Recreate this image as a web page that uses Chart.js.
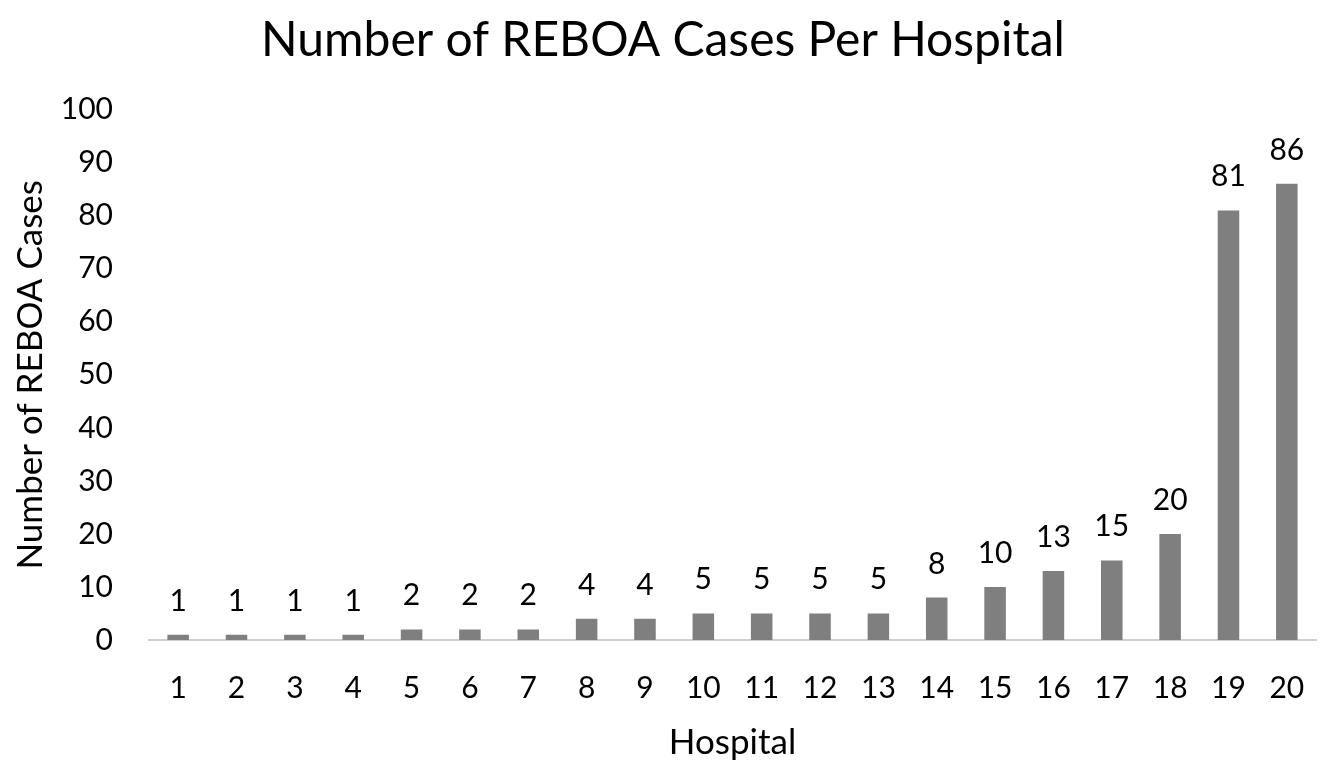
<!DOCTYPE html>
<html lang="en">
<head>
<meta charset="UTF-8">
<title>Number of REBOA Cases Per Hospital</title>
<script src="https://cdn.jsdelivr.net/npm/chart.js"></script>
<style>
    html, body {
        margin: 0;
        padding: 0;
        background: #ffffff;
    }
    .wrap {
        width: 1323px;
        height: 765px;
    }
</style>
</head>
<body>
<div class="wrap">
    <canvas id="rebaoChart" width="1323" height="765"></canvas>
</div>

<script>
    // Hospitals 1..20 and their REBOA case counts
    const hospitals = ['1', '2', '3', '4', '5', '6', '7', '8', '9', '10',
                       '11', '12', '13', '14', '15', '16', '17', '18', '19', '20'];
    const reboaCases = [1, 1, 1, 1, 2, 2, 2, 4, 4, 5, 5, 5, 5, 8, 10, 13, 15, 20, 81, 86];
    const yTicks = [0, 10, 20, 30, 40, 50, 60, 70, 80, 90, 100];

    const fontFamily = 'Lato, "Open Sans", sans-serif';

    // writes the value above each bar
    const barLabels = {
        id: 'barLabels',
        afterDatasetsDraw(chart) {
            const ctx = chart.ctx;
            const meta = chart.getDatasetMeta(0);
            ctx.save();
            ctx.fillStyle = '#000';
            ctx.font = '30px ' + fontFamily;
            ctx.textAlign = 'center';
            ctx.textBaseline = 'alphabetic';
            meta.data.forEach(function (bar, i) {
                ctx.fillText(reboaCases[i], bar.x, bar.y - 24);
            });
            ctx.restore();
        }
    };

    new Chart(document.getElementById('rebaoChart'), {
        type: 'bar',
        data: {
            labels: hospitals,
            datasets: [{
                data: reboaCases,
                backgroundColor: '#7f7f7f',
                barPercentage: 0.6,
                categoryPercentage: 0.615
            }]
        },
        options: {
            responsive: false,
            animation: false,
            layout: {
                padding: { left: 10, right: 7, top: 0, bottom: 1 }
            },
            plugins: {
                legend: { display: false },
                tooltip: { enabled: false },
                title: {
                    display: true,
                    text: 'Number of REBOA Cases Per Hospital',
                    color: '#000',
                    font: { family: fontFamily, size: 48, weight: 'normal' },
                    padding: { top: 12, bottom: 40 }
                }
            },
            scales: {
                x: {
                    afterFit(axis) {
                        axis.paddingLeft = 0;
                        axis.paddingRight = 0;
                        // tick padding is counted twice by fit(), take one back
                        axis.height -= 30;
                    },
                    grid: { display: false, drawTicks: false },
                    border: { display: true, color: '#d0d0d0', width: 2 },
                    ticks: {
                        color: '#000',
                        font: { family: fontFamily, size: 30 },
                        padding: 30,
                        maxRotation: 0
                    },
                    title: {
                        display: true,
                        text: 'Hospital',
                        color: '#000',
                        font: { family: fontFamily, size: 35 },
                        padding: { top: 16, bottom: 0 }
                    }
                },
                y: {
                    min: 0,
                    max: 100,
                    afterBuildTicks(axis) {
                        axis.ticks = yTicks.map(v => ({ value: v }));
                    },
                    afterFit(axis) {
                        axis.width = 139;
                        axis.paddingTop = 0;
                        axis.paddingBottom = 0;
                    },
                    grid: { display: false, drawTicks: false },
                    border: { display: false },
                    ticks: {
                        color: '#000',
                        font: { family: fontFamily, size: 30 },
                        padding: 36
                    },
                    title: {
                        display: true,
                        text: 'Number of REBOA Cases',
                        color: '#000',
                        font: { family: fontFamily, size: 35 },
                        padding: { top: 0, bottom: 0 }
                    }
                }
            }
        },
        plugins: [barLabels]
    });
</script>
</body>
</html>
